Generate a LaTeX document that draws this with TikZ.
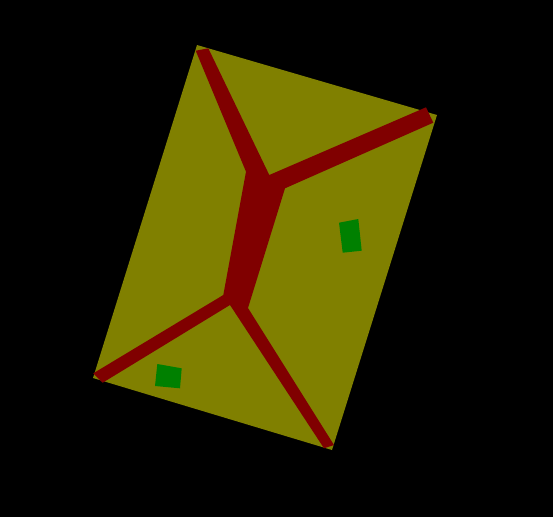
\documentclass[tikz,border=0pt]{standalone}
\definecolor{olivec}{HTML}{808000}
\definecolor{maroonc}{HTML}{800000}
\definecolor{greenc}{HTML}{008000}
\begin{document}
\begin{tikzpicture}[x=1pt,y=-1pt]
\tikzset{
  roof/.style={fill=olivec},
  ridge/.style={fill=maroonc},
  skylight/.style={fill=greenc}
}
\fill[black] (0,0) rectangle (553,517);
\useasboundingbox (0,0) rectangle (553,517);
% roof outline
\coordinate (rt) at (197,45);
\coordinate (rr) at (437,115);
\coordinate (rb) at (332,450);
\coordinate (rl) at (93,378);
\path[roof] (rt) -- (rr) -- (rb) -- (rl) -- cycle;
% ridge and hips
\path[ridge] (195.7,50.7) -- (208.3,48.3) -- (269.3,175) -- (426,107.3) -- (433.3,122.7)
  -- (285,188.3) -- (248,308) -- (334,445) -- (324,448.3) -- (230,305)
  -- (102.7,382.7) -- (93.3,373.3) -- (223.3,295) -- (246,171.7) -- cycle;
% skylights
\path[skylight] (339,222.7) -- (358.3,219) -- (361.7,250.7) -- (342.7,252.7) -- cycle;
\path[skylight] (157.3,364) -- (181.7,368.3) -- (180,388.3) -- (155,386) -- cycle;
\end{tikzpicture}
\end{document}
